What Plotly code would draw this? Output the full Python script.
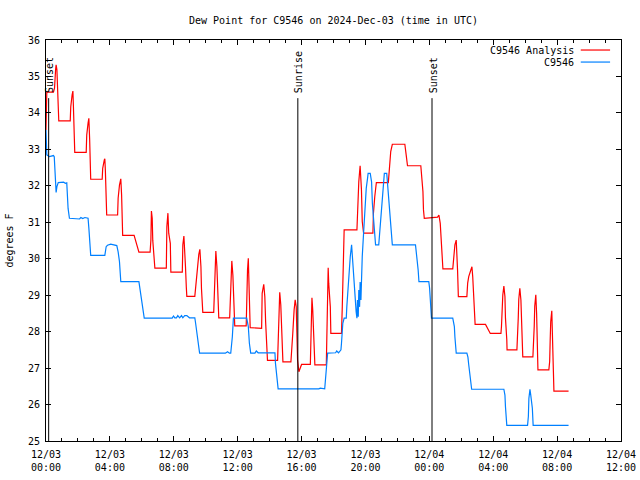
import pandas as pd
import plotly.graph_objects as go

# ---------------- data (minutes after 2024-12-03 00:00 UTC, dew point in °F) -------------
analysis_minutes = [
    0, 3, 28, 32, 36, 38, 41, 46, 48,
    91, 93, 98, 101, 103, 108,
    151, 153, 158, 161, 164, 166, 168,
    211, 213, 219, 221, 223, 226, 228,
    269, 271, 276, 281, 284, 286, 288,
    331, 339, 349,
    391, 394, 396, 399, 401, 404, 409,
    452, 454, 458, 461, 467, 469,
    512, 514, 518, 521, 524, 527, 529,
    559, 564, 569, 574, 578, 582, 584, 587, 589,
    630, 632, 636, 638, 642, 644, 647, 649,
    690, 692, 694, 698, 702, 704, 707, 709,
    752, 754, 757, 760, 762, 764, 767,
    810, 812, 818, 822, 825, 830, 832,
    870, 872, 875, 878, 882, 885, 887, 890,
    920, 922, 927, 932, 936, 940, 942, 945, 950, 955, 960,
    993, 995, 999, 1002, 1005, 1008, 1010,
    1053, 1055, 1058, 1060, 1062, 1068, 1070,
    1110, 1113, 1115, 1118, 1120,
    1168, 1170, 1175, 1180, 1185, 1188, 1193,
    1228, 1230, 1235, 1241,
    1286, 1288, 1293, 1295, 1301,
    1348, 1353, 1358,
    1408, 1411, 1416, 1418, 1421,
    1471, 1476, 1481, 1486, 1491,
    1528, 1531, 1536, 1541, 1543, 1546, 1549,
    1581, 1584, 1588, 1596, 1600, 1603, 1606, 1611, 1612,
    1651, 1656, 1661, 1669,
    1709, 1711, 1716, 1720, 1724, 1726, 1731, 1732,
    1769, 1771, 1774, 1776, 1780, 1784, 1789, 1791,
    1829, 1831, 1834, 1836, 1840, 1843, 1845, 1848,
    1889, 1892, 1894, 1896, 1900, 1903, 1906, 1908,
    1963,
]
analysis_dewpoint = [
    33.53, 34.57, 34.57, 34.68, 35.18, 35.32, 35.18, 34.17, 33.78,
    33.78, 34.17, 34.49, 34.60, 34.17, 32.92,
    32.92, 33.39, 33.72, 33.85, 33.26, 32.60, 32.18,
    32.18, 32.48, 32.71, 32.74, 32.43, 31.59, 31.20,
    31.20, 31.66, 32.02, 32.19, 31.75, 31.06, 30.64,
    30.64, 30.42, 30.18,
    30.18, 30.51, 31.31, 31.11, 30.51, 30.15, 29.74,
    29.74, 30.88, 31.25, 30.70, 30.42, 29.63,
    29.63, 30.38, 30.62, 30.33, 29.78, 29.23, 28.97,
    28.97, 29.37, 29.83, 30.12, 30.26, 29.78, 29.19, 28.82, 28.53,
    28.53, 28.96, 29.83, 30.21, 29.78, 29.23, 28.68, 28.38,
    28.38, 28.78, 29.51, 29.94, 29.55, 28.96, 28.41, 28.16,
    28.16, 29.05, 29.69, 30.01, 29.42, 28.73, 28.11,
    28.09, 29.05, 29.30, 28.96, 28.27, 27.50, 27.21,
    27.21, 27.68, 28.64, 29.08, 28.73, 28.05, 27.50, 27.17,
    27.17, 27.50, 27.95, 28.59, 28.87, 28.68, 27.95, 27.22, 26.90, 27.04, 27.10,
    27.10, 27.86, 28.93, 28.59, 27.86, 27.31, 27.09,
    27.09, 27.86, 29.05, 29.75, 29.33, 28.68, 27.95,
    27.95, 28.68, 29.51, 30.31, 30.79,
    30.79, 31.34, 32.11, 32.55, 31.89, 31.02, 30.70,
    30.70, 31.25, 31.70, 32.09,
    32.09, 32.25, 32.62, 32.94, 33.14,
    33.14, 32.85, 32.55,
    32.55, 32.30, 31.84, 31.34, 31.11,
    31.14, 31.20, 30.97, 30.42, 29.72,
    29.72, 30.06, 30.38, 30.51, 30.24, 29.69, 28.96,
    28.96, 29.33, 29.51, 29.69, 29.78, 29.51, 28.96, 28.46, 28.20,
    28.20, 28.14, 28.05, 27.95,
    27.95, 28.14, 29.01, 29.25, 28.96, 28.37, 27.77, 27.50,
    27.50, 27.77, 28.37, 28.89, 29.19, 28.87, 27.59, 27.31,
    27.31, 27.59, 28.14, 28.70, 29.01, 28.50, 27.77, 26.95,
    26.95, 27.18, 27.77, 28.27, 28.57, 28.00, 26.93, 26.37,
    26.37,
]

station_minutes = [
    0, 3, 13, 28, 31, 33, 36, 38, 41, 46,
    66, 73, 78, 83, 88,
    126, 131, 138, 146, 158, 161, 166, 168,
    221, 226, 231, 243, 266, 271, 276, 279, 281,
    349, 354, 359, 364, 369,
    474, 479, 484, 490, 495, 502, 509, 514, 521, 529, 539,
    559, 562, 567, 572, 577,
    674, 682, 689, 694, 700, 704,
    754, 760, 764, 769,
    785, 790, 797,
    860, 862, 865, 867, 872,
    1025, 1030, 1047, 1050, 1053, 1058,
    1088, 1092, 1099, 1108, 1110, 1113, 1115, 1120,
    1128, 1130, 1133, 1135, 1138, 1143, 1148, 1153, 1158, 1163, 1165,
    1168, 1170, 1173, 1175, 1178, 1180, 1183, 1185, 1188, 1193,
    1198, 1203, 1208, 1210, 1218, 1223, 1226, 1235, 1238,
    1250, 1253, 1258, 1263, 1268, 1271, 1280, 1283, 1288, 1293, 1295, 1301,
    1388, 1391, 1393, 1398, 1401,
    1438, 1441, 1443, 1446, 1448,
    1528, 1534, 1536, 1538, 1541,
    1581, 1585, 1588, 1594, 1599,
    1720, 1724, 1726, 1729, 1731,
    1809, 1812, 1814, 1818, 1821, 1827, 1830,
    1963,
]
station_dewpoint = [
    33.53, 32.85, 32.80, 32.83, 32.80, 32.48, 32.07, 31.82, 31.98, 32.09,
    32.10, 32.07, 32.08, 31.38, 31.11,
    31.09, 31.13, 31.10, 31.13, 31.11, 30.84, 30.38, 30.09,
    30.09, 30.33, 30.37, 30.40, 30.36, 30.19, 29.92, 29.60, 29.37,
    29.37, 29.14, 28.82, 28.55, 28.37,
    28.37, 28.43, 28.38, 28.38, 28.44, 28.38, 28.44, 28.38, 28.44, 28.44, 28.38,
    28.38, 28.23, 27.95, 27.68, 27.41,
    27.41, 27.45, 27.41, 27.41, 27.86, 28.37,
    28.37, 28.14, 27.68, 27.41,
    27.41, 27.47, 27.42,
    27.42, 27.13, 26.90, 26.67, 26.43,
    26.43, 26.45, 26.43, 26.67, 26.95, 27.41,
    27.42, 27.47, 27.42, 27.50, 27.68, 27.95, 28.23, 28.37,
    28.37, 28.68, 29.05, 29.37, 29.69, 30.06, 30.38, 29.78, 29.33, 28.78, 28.55,
    28.37, 28.87, 28.41, 29.14, 28.68, 29.36, 28.87, 29.42, 30.06, 30.70,
    31.52, 31.93, 32.21, 32.34, 32.34, 32.11, 31.52, 30.70, 30.38,
    30.38, 30.70, 31.20, 31.70, 32.16, 32.34, 32.34, 32.07, 31.52, 31.15, 30.84, 30.38,
    30.38, 30.19, 29.92, 29.69, 29.37,
    29.37, 29.19, 28.87, 28.55, 28.37,
    28.37, 28.14, 27.86, 27.68, 27.41,
    27.41, 27.30, 27.09, 26.67, 26.42,
    26.42, 26.26, 25.94, 25.67, 25.43,
    25.43, 25.67, 26.17, 26.42, 26.26, 25.90, 25.43,
    25.43,
]

series_names = ["C9546 Analysis", "C9546"]
series_colors = ["#ff0000", "#0080ff"]

sun_event_labels = ["Sunset", "Sunrise", "Sunset"]
sun_event_times = ["2024-12-03 00:10", "2024-12-03 15:46", "2024-12-04 00:10"]

tick_hours = [0, 4, 8, 12, 16, 20, 24, 28, 32, 36]
tick_labels = ["12/03<br>00:00", "12/03<br>04:00", "12/03<br>08:00", "12/03<br>12:00",
               "12/03<br>16:00", "12/03<br>20:00", "12/04<br>00:00", "12/04<br>04:00",
               "12/04<br>08:00", "12/04<br>12:00"]

title_text = "Dew Point for C9546 on 2024-Dec-03 (time in UTC)"
y_title = "degrees F"

assert len(analysis_minutes) == len(analysis_dewpoint)
assert len(station_minutes) == len(station_dewpoint)

# ---------------- figure ----------------
start = pd.Timestamp("2024-12-03 00:00")


def to_time(mins):
    return [start + pd.Timedelta(minutes=m) for m in mins]


FONT = "DejaVu Sans Mono"
W, H = 640, 480

fig = go.Figure()
fig.add_trace(go.Scatter(x=to_time(analysis_minutes), y=analysis_dewpoint, mode="lines",
                         name=series_names[0], line=dict(color=series_colors[0], width=1.2),
                         showlegend=False))
fig.add_trace(go.Scatter(x=to_time(station_minutes), y=station_dewpoint, mode="lines",
                         name=series_names[1], line=dict(color=series_colors[1], width=1.2),
                         showlegend=False))

# sunrise / sunset markers
for lab, t in zip(sun_event_labels, sun_event_times):
    fig.add_shape(type="line", xref="x", yref="paper", x0=t, x1=t, y0=0, y1=0.855,
                  line=dict(color="black", width=1))
    fig.add_annotation(x=t, xref="x", y=0.862, yref="paper", text=lab, textangle=-90,
                       showarrow=False, xanchor="center", yanchor="bottom",
                       font=dict(family=FONT, size=10, color="black"), xshift=1)

# hand-drawn legend (text left of the line sample, as in the original)
legend_y = [0.975, 0.945]
for name, color, ly in zip(series_names, series_colors, legend_y):
    fig.add_annotation(x=0.922, xref="paper", y=ly, yref="paper", text=name, showarrow=False,
                       xanchor="right", yanchor="middle",
                       font=dict(family=FONT, size=10, color="black"))
    fig.add_shape(type="line", xref="paper", yref="paper", x0=0.930, x1=0.981, y0=ly, y1=ly,
                  line=dict(color=color, width=1.2))

fig.update_layout(
    width=W, height=H,
    margin=dict(l=46, r=19, t=40, b=39, autoexpand=False),
    paper_bgcolor="white", plot_bgcolor="white",
    font=dict(family=FONT, size=10, color="black"),
    title=dict(text=title_text, x=0.5, xref="paper", xanchor="center",
               y=1 - 20 / H, yref="container", yanchor="middle",
               font=dict(family=FONT, size=10, color="black")),
    showlegend=False,
)

fig.update_xaxes(
    range=[start, start + pd.Timedelta(hours=36)],
    tickmode="array",
    tickvals=[start + pd.Timedelta(hours=h) for h in tick_hours],
    ticktext=tick_labels,
    ticks="inside", ticklen=5, tickcolor="black", tickwidth=1,
    minor=dict(tickmode="linear", tick0=start, dtick=3600000, ticks="inside",
               ticklen=3, tickcolor="black", tickwidth=1, showgrid=False),
    showline=True, linecolor="black", linewidth=1, mirror="allticks",
    showgrid=False, zeroline=False, automargin=False,
    ticklabelstandoff=4,
    tickfont=dict(family=FONT, size=10, color="black"),
)
fig.update_yaxes(
    range=[25, 36], dtick=1, tick0=25,
    ticks="inside", ticklen=5, tickcolor="black", tickwidth=1,
    showline=True, linecolor="black", linewidth=1, mirror="allticks",
    showgrid=False, zeroline=False, automargin=False,
    ticklabelstandoff=3,
    tickfont=dict(family=FONT, size=10, color="black"),
    title=dict(text=y_title, font=dict(family=FONT, size=10, color="black"), standoff=12),
)

# remove the browser's default 8 px page margin so the figure fills the window exactly
fig.write_html("out.html",
               config={"displayModeBar": False},
               post_script="document.body.style.margin='0';document.body.style.overflow='hidden';")
